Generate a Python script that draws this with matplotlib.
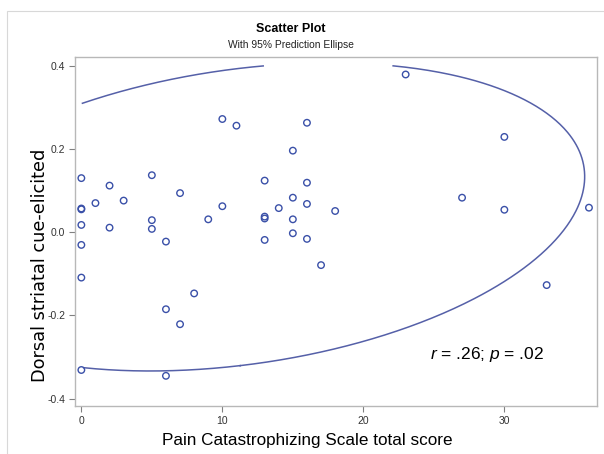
import numpy as np
import matplotlib
matplotlib.use("Agg")
import matplotlib.pyplot as plt
from matplotlib.patches import Rectangle

# ---- data ----
pcs = [0, 0, 0, 0, 0, 0, 0,
       1, 2, 2, 3,
       5, 5, 5,
       6, 6, 6,
       7, 7, 8, 9,
       10, 10, 11,
       13, 13, 13, 13, 14,
       15, 15, 15, 15,
       16, 16, 16, 16,
       17, 18, 23, 27, 30, 30, 33, 36]
dorsal = [0.130, 0.057, 0.055, 0.0175, -0.0305, -0.109, -0.331,
          0.070, 0.112, 0.011, 0.076,
          0.137, 0.029, 0.008,
          -0.0225, -0.185, -0.345,
          0.094, -0.221, -0.147, 0.031,
          0.272, 0.0625, 0.256,
          0.124, 0.0375, 0.033, -0.0185, 0.058,
          0.196, 0.083, 0.031, -0.0025,
          0.263, 0.119, 0.068, -0.016,
          -0.079, 0.051, 0.379, 0.083, 0.229, 0.054, -0.127, 0.059]

xticks = [0, 10, 20, 30]
yticks = [-0.4, -0.2, 0.0, 0.2, 0.4]
title = "Scatter Plot"
subtitle = "With 95% Prediction Ellipse"
xlabel = "Pain Catastrophizing Scale total score"
ylabel = "Dorsal striatal cue-elicited"
annot = r"$\it{r}$ = .26; $\it{p}$ = .02"

plt.rcParams['font.family'] = ['Liberation Sans', 'DejaVu Sans']
plt.rcParams['mathtext.fontset'] = 'custom'
plt.rcParams['mathtext.rm'] = 'Liberation Sans'
plt.rcParams['mathtext.it'] = 'Liberation Sans:italic'

W, H = 604, 454
fig = plt.figure(figsize=(W / 100, H / 100), dpi=100)
ax = fig.add_axes([75 / W, 1 - 406 / H, (597 - 75) / W, (406 - 57) / H])

# outer graph border
fig.patches.append(Rectangle((7 / W, -0.1), 1.2, 1 - 11 / H + 0.1,
                             transform=fig.transFigure, fill=False,
                             edgecolor='#d8d8d8', lw=0.8))

x = np.array(pcs, float)
y = np.array(dorsal, float)
n = len(x)

# 95% prediction ellipse
mean = np.array([x.mean(), y.mean()])
cov = np.cov(x, y)
F = (n - 2) / 2 * (0.05 ** (-2 / (n - 2)) - 1)
c2 = 2 * (n - 1) * (n + 1) / (n * (n - 2)) * F
vals, vecs = np.linalg.eigh(cov)
t = np.linspace(0, 2 * np.pi, 800)
pts = vecs @ (np.sqrt(c2 * vals)[:, None] * np.vstack([np.cos(t), np.sin(t)]))
ex = pts[0] + mean[0]
ey = pts[1] + mean[1]
mask = (ex < 0) | (ey > 0.4) | (ey < -0.4)
ex = np.where(mask, np.nan, ex)
ey = np.where(mask, np.nan, ey)
ax.plot(ex, ey, color='#5560a8', lw=1.1, zorder=2)

ax.scatter(x, y, s=22, facecolors='none', edgecolors='#3a50a8', linewidths=1.0, zorder=3)

ax.set_xlim(-0.45, 36.57)
ax.set_ylim(-0.4175, 0.421)
ax.set_xticks(xticks)
ax.set_yticks(yticks)
ax.set_xticklabels([str(v) for v in xticks])
ax.set_yticklabels([f"{v:.1f}" for v in yticks])
ax.tick_params(direction='out', length=4, width=0.8, color='#808080',
               labelsize=7.5, labelcolor='#333333', pad=3)
for s in ax.spines.values():
    s.set_color('#b8b8b8')
    s.set_linewidth(1.0)

fig.text(430 / W, 1 - 354 / H, annot, fontsize=12.5, va='center', ha='left')

fig.text(291 / W, 1 - 29 / H, title, ha='center', va='center', fontsize=9, fontweight='bold')
fig.text(291 / W, 1 - 45 / H, subtitle, ha='center', va='center', fontsize=7.4, color='#222222')
fig.text(307 / W, 1 - 440 / H, xlabel, ha='center', va='center', fontsize=12.3)
fig.text(40 / W, 1 - 265 / H, ylabel, ha='center', va='center', fontsize=12.8,
         rotation=90, family=['DejaVu Sans'])

fig.savefig("out.png", dpi=100)
